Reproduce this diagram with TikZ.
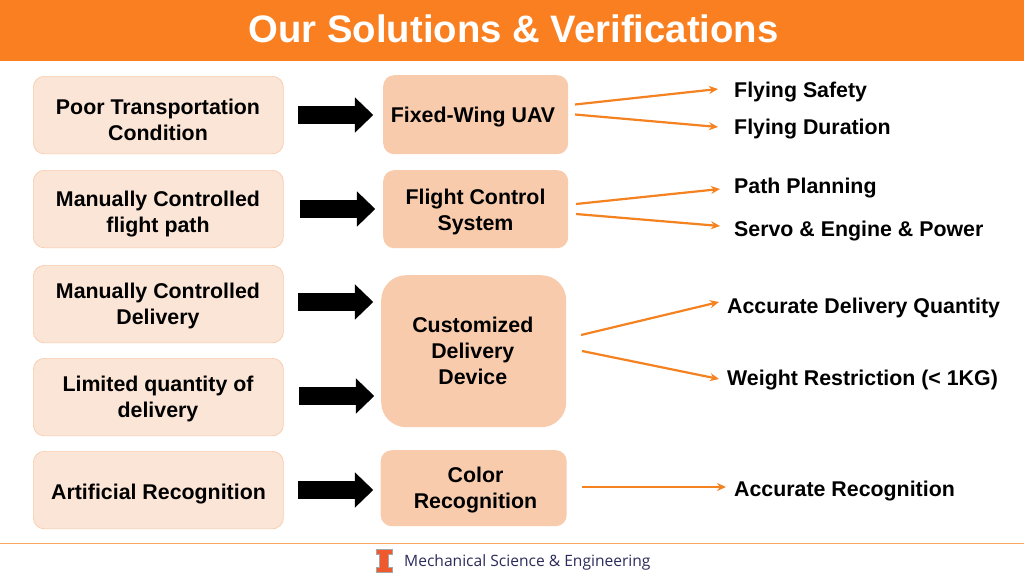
\documentclass[tikz,border=0pt]{standalone}
\usepackage{fontspec}
\setmainfont{Liberation Sans}
\newfontfamily\footfont{Open Sans}
\usetikzlibrary{shapes.arrows,arrows.meta}
\definecolor{ilorange}{HTML}{FA7F20}
\definecolor{lightbox}{HTML}{FBE5D6}
\definecolor{midbox}{HTML}{F8CBAD}
\definecolor{linkc}{HTML}{F58220}
\definecolor{rulecolor}{HTML}{F8A860}
\definecolor{foottext}{HTML}{2B2B5C}
\definecolor{ilred}{HTML}{EE5A2E}
\tikzset{
  x=1pt,y=-1pt,
  txt/.style={font=\fontsize{21.35}{26}\selectfont\bfseries,align=center,text=black,inner sep=0pt},
  problem/.style={rectangle,rounded corners=11pt,fill=lightbox,draw=midbox,line width=0.7pt,anchor=north west,minimum width=250pt,minimum height=77.5pt},
  solution/.style={rectangle,rounded corners=11pt,fill=midbox,anchor=north west},
  verif/.style={txt,anchor=west},
  block/.style={single arrow,fill=black,draw=none,inner xsep=0pt,inner ysep=8.75pt,minimum height=75pt,minimum width=35pt,single arrow head extend=8.75pt,single arrow tip angle=88,single arrow head indent=0pt,anchor=west},
  link/.style={draw=linkc,line width=2.2pt,-{Stealth[length=9pt,width=8pt]}},
}
\begin{document}
\begin{tikzpicture}
\useasboundingbox (0,0) rectangle (1024,573);
\fill[white] (0,0) rectangle (1024,573);
\fill[ilorange] (0,0) rectangle (1024,61);
\node[font=\fontsize{38.3}{46}\selectfont\bfseries,text=white,inner sep=0pt] (title) at (513.5,29) {Our Solutions \& Verifications};

\node[problem] (p1) at (33,76) {};
\node[problem] (p2) at (33,170) {};
\node[problem] (p3) at (33,265) {};
\node[problem] (p4) at (33,358) {};
\node[problem] (p5) at (33,451) {};
\node[txt] (p1t) at (158,120) {Poor Transportation\\Condition};
\node[txt] (p2t) at (158,214) {Manually Controlled\\flight path};
\node[txt] (p3t) at (158,306) {Manually Controlled\\Delivery};
\node[txt] (p4t) at (158,398.5) {Limited quantity of\\delivery};
\node[txt] (p5t) at (158.5,494) {Artificial Recognition};

\node[solution,minimum width=185pt,minimum height=79pt] (s1) at (383,75) {};
\node[solution,minimum width=185pt,minimum height=78pt] (s2) at (383,170) {};
\node[solution,minimum width=185pt,minimum height=152pt,rounded corners=25pt] (s3) at (381,275) {};
\node[solution,minimum width=186pt,minimum height=76pt] (s4) at (380.5,450) {};
\node[txt] (s1t) at (473,117) {Fixed-Wing UAV};
\node[txt] (s2t) at (475.5,212) {Flight Control\\System};
\node[txt] (s3t) at (472.8,351) {Customized\\Delivery\\Device};
\node[txt] (s4t) at (475.5,490) {Color\\Recognition};

\node[block] (a1) at (298,115) {};
\node[block] (a2) at (300,209) {};
\node[block] (a3) at (298,302) {};
\node[block] (a4) at (299,396) {};
\node[block] (a5) at (298,490) {};

\node[verif] (v1) at (734,92) {Flying Safety};
\node[verif] (v2) at (734,129) {Flying Duration};
\node[verif] (v3) at (734,188) {Path Planning};
\node[verif] (v4) at (734,231) {Servo \& Engine \& Power};
\node[verif] (v5) at (727,308) {Accurate Delivery Quantity};
\node[verif] (v6) at (727,380.5) {Weight Restriction (< 1KG)};
\node[verif] (v7) at (734,491) {Accurate Recognition};

\coordinate (o1a) at (575,104.5); \coordinate (t1a) at (718,89);
\coordinate (o1b) at (575,114.5); \coordinate (t1b) at (718,127);
\coordinate (o2a) at (576,204);   \coordinate (t2a) at (720,189);
\coordinate (o2b) at (576,214);   \coordinate (t2b) at (720,226);
\coordinate (o3a) at (581,335);   \coordinate (t3a) at (719,302);
\coordinate (o3b) at (582,351);   \coordinate (t3b) at (719,379);
\coordinate (o4)  at (582,487);   \coordinate (t4)  at (726,487);
\draw[link] (o1a) -- (t1a);
\draw[link] (o1b) -- (t1b);
\draw[link] (o2a) -- (t2a);
\draw[link] (o2b) -- (t2b);
\draw[link] (o3a) -- (t3a);
\draw[link] (o3b) -- (t3b);
\draw[link] (o4) -- (t4);

\fill[rulecolor] (0,543) rectangle (1024,544.2);
\fill[ilred,draw=gray!70,line width=0.7pt] (376,549) -- (392,549) -- (392,554) -- (388.5,554) -- (388.5,567) -- (392,567) -- (392,572) -- (376,572) -- (376,567) -- (379.5,567) -- (379.5,554) -- (376,554) -- cycle;
\node[font=\footfont\fontsize{15.6}{19}\selectfont,text=foottext,anchor=west,inner sep=0pt] (foot) at (404,562) {Mechanical Science \& Engineering};
\end{tikzpicture}
\end{document}
